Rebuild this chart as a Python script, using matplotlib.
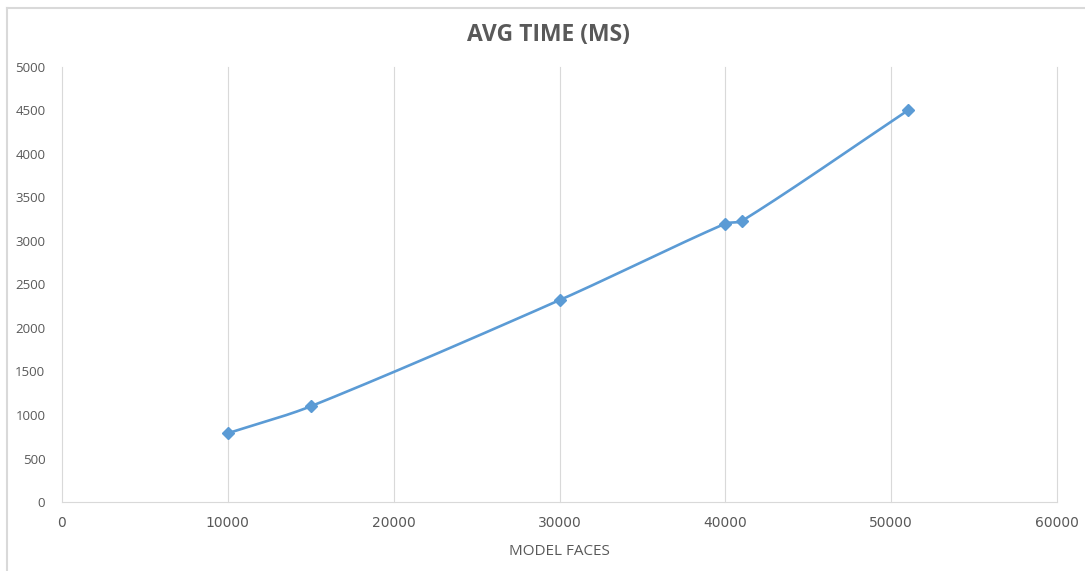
import numpy as np
import matplotlib.pyplot as plt
from matplotlib.lines import Line2D

# faces in the model vs average time in ms
faces = [10000, 15000, 30000, 40000, 41000, 51000]
avg_ms = [790, 1100, 2320, 3200, 3230, 4500]
xticks = [0, 10000, 20000, 30000, 40000, 50000, 60000]
yticks = [0, 500, 1000, 1500, 2000, 2500, 3000, 3500, 4000, 4500, 5000]

BLUE = '#5B9BD5'
GREY = '#595959'
GRID = '#D9D9D9'

W, H = 1085, 571
AX_L, AX_B, AX_W, AX_H = 62, 69, 995, 435
XMAX, YMAX = 60000, 5000


def smooth(xs, ys, k=0.3, n=40):
    """smoothed line through the points, tangents from neighbours,
    handle length scaled by the segment length (worked out in pixels)"""
    sx = AX_W / XMAX
    sy = AX_H / YMAX
    p = np.column_stack([np.asarray(xs) * sx, np.asarray(ys) * sy]).astype(float)
    m = len(p)
    tang = []
    for i in range(m):
        a = p[max(i - 1, 0)]
        b = p[min(i + 1, m - 1)]
        d = b - a
        tang.append(d / np.linalg.norm(d))
    out = []
    for i in range(m - 1):
        p1, p2 = p[i], p[i + 1]
        L = np.linalg.norm(p2 - p1)
        c1 = p1 + tang[i] * L * k
        c2 = p2 - tang[i + 1] * L * k
        t = np.linspace(0, 1, n)[:, None]
        seg = ((1 - t) ** 3) * p1 + 3 * ((1 - t) ** 2) * t * c1 + 3 * (1 - t) * t ** 2 * c2 + t ** 3 * p2
        out.append(seg)
    out = np.vstack(out)
    return out[:, 0] / sx, out[:, 1] / sy


fig = plt.figure(figsize=(W / 100, H / 100), dpi=100)
ax = fig.add_axes([AX_L / W, AX_B / H, AX_W / W, AX_H / H])

sx, sy = smooth(faces, avg_ms)
ax.plot(sx, sy, color=BLUE, lw=1.9, solid_capstyle='round', zorder=3)
ax.plot(faces, avg_ms, ls='none', marker='D', ms=6, color=BLUE, zorder=4)

ax.set_xlim(0, XMAX)
ax.set_ylim(0, YMAX)
ax.set_xticks(xticks)
ax.set_yticks(yticks)
ax.xaxis.grid(True, color=GRID, lw=0.8)
for gl in ax.get_xgridlines():
    gl.set_clip_on(False)
ax.set_axisbelow(True)
for s in ['top', 'right', 'left']:
    ax.spines[s].set_visible(False)
ax.spines['bottom'].set_color(GRID)
ax.spines['bottom'].set_linewidth(0.8)
ax.tick_params(length=0, labelcolor=GREY)
ax.tick_params(axis='x', pad=10, labelsize=10)
ax.tick_params(axis='y', pad=12, labelsize=9.5)
for lab in ax.get_xticklabels():
    lab.set_family('DejaVu Sans')
for lab in ax.get_yticklabels():
    lab.set_family('Open Sans')

ax.set_xlabel('MODEL FACES', fontsize=11, color=GREY, family='Open Sans', labelpad=10)
fig.text(0.5 + 6 / W, 1 - 35 / H, 'AVG TIME (MS)', ha='center', va='center',
         fontsize=16.5, fontweight='bold', color=GREY, family='Open Sans')

# chart area border (top and left edges)
fig.add_artist(Line2D([7 / W, 1], [1 - 8 / H, 1 - 8 / H], color=GRID, lw=1.5))
fig.add_artist(Line2D([7 / W, 7 / W], [0, 1 - 8 / H], color=GRID, lw=1.5))

fig.savefig('out.png', dpi=100)
